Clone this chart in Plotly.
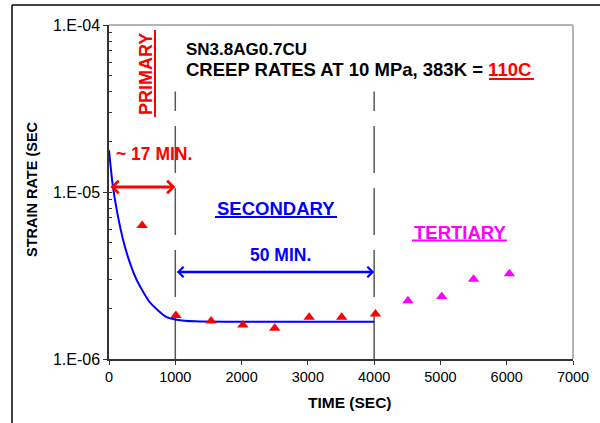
import plotly.graph_objects as go
import numpy as np

# ---------------- data ----------------
primary_secondary_t = [500, 1010, 1540, 2020, 2500, 3020, 3510, 4020]
primary_secondary_rate = [6.3e-6, 1.82e-6, 1.69e-6, 1.60e-6, 1.53e-6, 1.78e-6, 1.78e-6, 1.86e-6]

tertiary_t = [4510, 5020, 5500, 6040]
tertiary_rate = [2.23e-6, 2.37e-6, 3.00e-6, 3.24e-6]

fit_t = [0, 56, 131, 222, 312, 418, 614, 870, 1020, 1300, 2000, 3000, 4000]
fit_rate = [1.78e-5, 1.10e-5, 7.3e-6, 5.0e-6, 3.8e-6, 2.97e-6, 2.19e-6, 1.78e-6,
            1.72e-6, 1.68e-6, 1.67e-6, 1.67e-6, 1.67e-6]

phase_bounds = [1000, 4000]          # end of primary, end of secondary (sec)
bound_line_top = 4e-5

x_ticks = [0, 1000, 2000, 3000, 4000, 5000, 6000, 7000]
y_ticks = [1e-6, 1e-5, 1e-4]
y_ticktext = ["1.E-06", "1.E-05", "1.E-04"]

FONT = "Arial, 'Liberation Sans', sans-serif"
RED = "#FF0000"
BLUE = "#0000FF"
MAG = "#FF00FF"

# plot area in pixels
L, R, T, B = 109, 573, 25, 359
W, H = 600, 423

def px_x(p):  # pixel -> paper x
    return (p - L) / (R - L)

def px_y(p):  # pixel -> paper y
    return (B - p) / (B - T)

fig = go.Figure()

# dashed phase boundaries
for b in phase_bounds:
    fig.add_trace(go.Scatter(x=[b, b], y=[y_ticks[0], bound_line_top], mode="lines",
                             line=dict(color="#5a5a5a", width=1.5, dash="47px,15px"),
                             hoverinfo="skip", showlegend=False))

# fitted curve
fig.add_trace(go.Scatter(x=fit_t, y=fit_rate, mode="lines",
                         line=dict(color=BLUE, width=2, shape="spline", smoothing=0.6),
                         showlegend=False))

fig.add_trace(go.Scatter(x=primary_secondary_t, y=primary_secondary_rate, mode="markers",
                         marker=dict(symbol="triangle-up", size=10, color=RED),
                         showlegend=False))
fig.add_trace(go.Scatter(x=tertiary_t, y=tertiary_rate, mode="markers",
                         marker=dict(symbol="triangle-up", size=10, color=MAG),
                         showlegend=False))

ann = []
def text(x, y, s, color, size, xref="paper", yref="paper", angle=0, xanchor="center", yanchor="middle"):
    ann.append(dict(x=x, y=y, xref=xref, yref=yref, text=s, showarrow=False,
                    font=dict(family=FONT, size=size, color=color), textangle=angle,
                    xanchor=xanchor, yanchor=yanchor))

# title lines
text(px_x(184), px_y(49.5), "<b>SN3.8AG0.7CU</b>", "black", 17, xanchor="left")
text(px_x(184), px_y(69.5),
     "<b>CREEP RATES AT 10 MPa, 383K = <span style='color:#FF0000'>110C</span></b>",
     "black", 18.5, xanchor="left")

# phase labels
text(px_x(146), px_y(117), "<b>PRIMARY</b>", RED, 18, angle=-90, yanchor="bottom")
text(px_x(154), px_y(154), "<b>~ 17 MIN.</b>", RED, 17.5)
text(px_x(276), px_y(208.5), "<b>SECONDARY</b>", BLUE, 18.5)
text(px_x(280.5), px_y(254.5), "<b>50 MIN.</b>", BLUE, 17.5)
text(px_x(459.5), px_y(232), "<b>TERTIARY</b>", MAG, 18.5)

# axis titles
text(px_x(32), px_y(189), "<b>STRAIN RATE (SEC</b>", "black", 14.5, angle=-90)
text(px_x(350), px_y(402), "<b>TIME (SEC)</b>", "black", 15.5)

# double arrows
def darrow(x0, x1, ypx, color, width):
    ylog = np.log10(1e-4) - (ypx - T) / ((B - T) / 2)
    ann.append(dict(x=x1, y=ylog, ax=x0, ay=ylog, xref="x", yref="y", axref="x", ayref="y",
                    text="", showarrow=True, arrowside="end+start", arrowhead=4,
                    startarrowhead=4, arrowsize=0.8, startarrowsize=0.8,
                    arrowwidth=width, arrowcolor=color, standoff=0, startstandoff=0))

darrow(0, phase_bounds[0], 187, RED, 3)
darrow(phase_bounds[0], phase_bounds[1], 272, BLUE, 2.5)

shapes = []
def seg(x0, y0, x1, y1, color, width):
    shapes.append(dict(type="line", xref="paper", yref="paper",
                       x0=px_x(x0), y0=px_y(y0), x1=px_x(x1), y1=px_y(y1),
                       line=dict(color=color, width=width), layer="above"))

# underlines
seg(155, 117, 155, 30, RED, 2)           # PRIMARY (rotated)
seg(215, 217, 337, 217, BLUE, 2)         # SECONDARY
seg(412, 240.5, 507, 240.5, MAG, 2)      # TERTIARY
seg(489, 79, 534, 79, RED, 2)            # 110C

# plot frame (top/right in gray)
seg(L, T, R, T, "#b4b4b4", 2)
seg(R, T, R, B, "#b4b4b4", 2)
# outer frame
seg(12, 5, 12, 430, "black", 1.5)
seg(12, 5, 610, 5, "black", 1.5)

fig.update_layout(
    width=W, height=H,
    margin=dict(l=L, r=W - R, t=T, b=H - B),
    paper_bgcolor="white", plot_bgcolor="white",
    showlegend=False,
    annotations=ann, shapes=shapes,
    font=dict(family=FONT, size=13, color="black"),
    xaxis=dict(range=[0, 7000], tickmode="array", tickvals=x_ticks,
               ticks="outside", ticklen=4, tickwidth=1.2, tickcolor="#333",
               showline=True, linecolor="#333", linewidth=1.5,
               showgrid=False, zeroline=False,
               tickfont=dict(family=FONT, size=14.5, color="black")),
    yaxis=dict(type="log", range=[-6, -4], tickmode="array", tickvals=y_ticks,
               ticktext=y_ticktext, ticks="outside", ticklen=4, tickwidth=1.2, tickcolor="#333",
               showline=True, linecolor="#333", linewidth=1.5,
               showgrid=False, zeroline=False,
               minor=dict(ticks="inside", ticklen=3, tickwidth=1, tickcolor="#333",
                          dtick="D1", showgrid=False),
               tickfont=dict(family=FONT, size=16, color="black")),
    xaxis2=dict(range=[0, 7000], overlaying="x", anchor="y", side="bottom",
                tickmode="array", tickvals=x_ticks, ticks="inside", ticklen=3,
                tickwidth=1.2, tickcolor="#333", showticklabels=False,
                showline=False, showgrid=False, zeroline=False),
    yaxis2=dict(type="log", range=[-6, -4], overlaying="y", anchor="x", side="left",
                tickmode="array", tickvals=y_ticks, ticks="inside", ticklen=3,
                tickwidth=1.2, tickcolor="#333", showticklabels=False,
                showline=False, showgrid=False, zeroline=False),
)

fig.write_html("out.html")
